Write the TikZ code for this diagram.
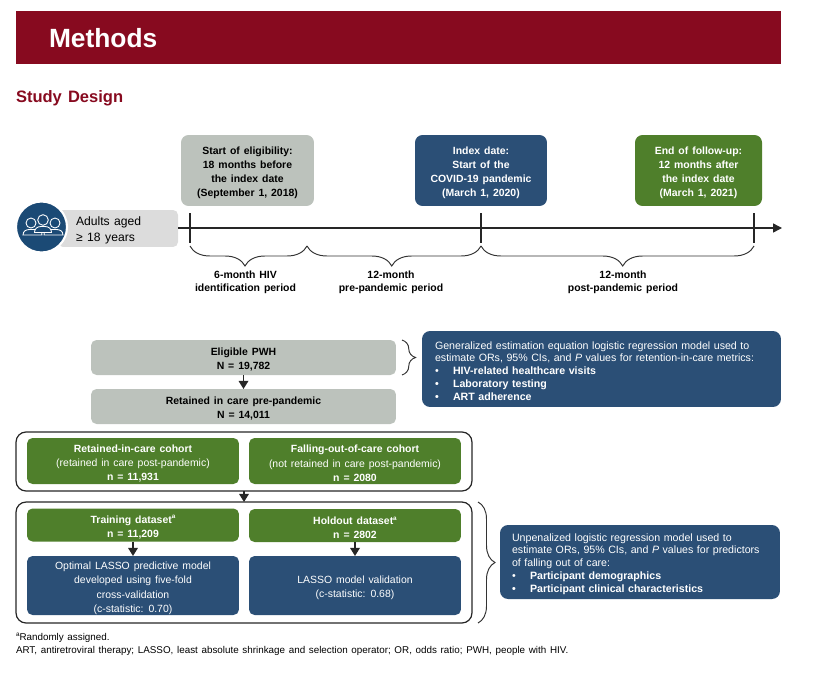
\documentclass[tikz,border=0pt]{standalone}
\usepackage{fontspec}
\setmainfont[WordSpace=1.35]{Liberation Sans}
\usetikzlibrary{decorations.pathreplacing,arrows.meta}
\definecolor{crimson}{HTML}{870A1F}
\definecolor{slateblue}{HTML}{2B4F76}
\definecolor{iconblue}{HTML}{1B4A75}
\definecolor{leafgreen}{HTML}{4F7F2B}
\definecolor{sage}{HTML}{BCC2BC}
\definecolor{lightgrey}{HTML}{DCDCDC}
\newcommand{\supa}{\smash{\raisebox{0.42em}{\fontsize{3.6}{4}\selectfont a}}}
\newcommand{\itembullet}{\makebox[0.36cm][l]{•}}
\newcommand{\lift}[1][7pt]{\rule{0pt}{#1}}
\begin{document}
\begin{tikzpicture}[x=0.02cm,y=-0.02cm,inner sep=0pt,outer sep=0pt,
basebox/.style={rectangle,rounded corners=0.11cm,align=center,font=\fontsize{5.95}{8.05}\selectfont},
greybox/.style={basebox,fill=sage,text=black},
bluebox/.style={basebox,fill=slateblue,text=white},
greenbox/.style={basebox,fill=leafgreen,text=white},
datebox/.style={rounded corners=0.15cm,minimum height=1.42cm},
notebox/.style={bluebox,align=left,rounded corners=0.16cm,font=\fontsize{6.05}{7.25}\selectfont},
periodlabel/.style={align=center,font=\fontsize{5.95}{7.2}\selectfont\bfseries},
framebox/.style={draw=black!85,line width=0.7pt,rectangle,rounded corners=0.2cm,minimum width=9.12cm},
axisline/.style={line width=0.8pt,black!85},
flowarrow/.style={-{Triangle[length=4.6pt,width=5.4pt]},line width=1pt,black!85},
timebrace/.style={decorate,line width=0.55pt,black!80},
person/.style={draw=white,line width=0.5pt,fill=iconblue}]
\useasboundingbox (0,0) rectangle (820,672);
% title band
\node[fill=crimson,minimum width=15.3cm,minimum height=1.05cm,anchor=north west] (band) at (16,11.5) {};
\node[text=white,font=\fontsize{15}{18}\selectfont\bfseries,anchor=west] (methods) at (49,38) {Methods};
\node[text=crimson,font=\fontsize{9.4}{12}\selectfont\bfseries,anchor=west] (design) at (16,98) {Study Design};
% timeline
\node[greybox,datebox,minimum width=2.66cm] (start) at (247.5,170.5) {\lift\bfseries Start of eligibility:\\\bfseries 18 months before\\\bfseries the index date\\\bfseries (September 1, 2018)};
\node[bluebox,datebox,minimum width=2.64cm] (index) at (481,170.5) {\lift\bfseries Index date:\\\bfseries Start of the\\\bfseries COVID-19 pandemic\\\bfseries (March 1, 2020)};
\node[greenbox,datebox,minimum width=2.54cm] (end) at (698.5,170.5) {\lift\bfseries End of follow-up:\\\bfseries 12 months after\\\bfseries the index date\\\bfseries (March 1, 2021)};
\node[fill=lightgrey,rectangle,rounded corners=0.1cm,minimum width=2.4cm,minimum height=0.74cm,anchor=east] (adults) at (178,228.5) {};
\node[anchor=west,align=left,font=\fontsize{6.9}{9}\selectfont] (adultstext) at (76,230) {Adults aged\\≥ 18 years};
\node[circle,fill=iconblue,draw=white,line width=1.2pt,minimum size=1.02cm] (icon) at (41.5,227) {};
% three figures inside the circle
\draw[person] (31,223) circle (5);
\draw[person] (55,223) circle (5);
\draw[person] (23,235) .. controls (23,231) and (26,229.5) .. (30,229.5) -- (36,229.5) .. controls (40,229.5) and (42,231) .. (42,235) -- cycle;
\draw[person] (44,235) .. controls (44,231) and (46,229.5) .. (50,229.5) -- (56,229.5) .. controls (60,229.5) and (63,231) .. (63,235) -- cycle;
\draw[person] (43,220) circle (5.3);
\draw[person] (34.5,232.5) .. controls (34.5,229) and (37,226.5) .. (41,226.5) -- (45,226.5) .. controls (49,226.5) and (51.5,229) .. (51.5,232.5) -- cycle;
\coordinate (axisend) at (782,228);
\draw[-{Triangle[length=5pt,width=5pt]},axisline] (adults.east |- axisend) -- (axisend);
\foreach \tickname/\xpos in {tickstart/190,tickindex/481,tickend/754}{
  \coordinate (\tickname) at (\xpos,246);
  \draw[axisline] (\xpos,213) -- (\xpos,243);
}
\coordinate (tickmid) at (307,246);
\draw[timebrace,decoration={brace,mirror,amplitude=0.4cm,aspect=0.47}] (tickstart) -- (tickmid);
\draw[timebrace,decoration={brace,mirror,amplitude=0.4cm,aspect=0.487}] (tickmid) -- (tickindex);
\draw[timebrace,decoration={brace,mirror,amplitude=0.4cm,aspect=0.519}] (tickindex) -- (tickend);
\node[periodlabel] (identify) at (245.5,282) {6-month HIV\\identification period};
\node[periodlabel] (prepan) at (391,282) {12-month\\pre-pandemic period};
\node[periodlabel] (postpan) at (623,282) {12-month\\post-pandemic period};
% flow
\node[greybox,minimum width=6.1cm,minimum height=0.7cm] (eligible) at (243.5,357.5) {\lift[6.5pt]\bfseries Eligible PWH\\\bfseries N = 19,782};
\node[greybox,minimum width=6.1cm,minimum height=0.7cm] (retained) at (243.5,406.5) {\lift[6.5pt]\bfseries Retained in care pre-pandemic\\\bfseries N = 14,011};
\draw[flowarrow] (eligible) -- (retained);
\node[framebox,minimum height=1.18cm] (cohorts) at (244,461.5) {};
\node[greenbox,minimum width=4.24cm,minimum height=0.92cm] (incare) at (133,461) {\lift\bfseries Retained-in-care cohort\\(retained in care post-pandemic)\\\bfseries n = 11,931};
\node[greenbox,minimum width=4.24cm,minimum height=0.92cm] (outcare) at (355,461) {\lift\bfseries Falling-out-of-care cohort\\(not retained in care post-pandemic)\\\bfseries n = 2080};
\node[framebox,minimum height=2.42cm] (datasets) at (244,562.5) {};
\draw[flowarrow] (cohorts) -- (datasets);
\node[greenbox,minimum width=4.24cm,minimum height=0.66cm] (training) at (133,525) {\lift\bfseries Training dataset\supa\\\bfseries n = 11,209};
\node[greenbox,minimum width=4.24cm,minimum height=0.66cm] (holdout) at (355,525.5) {\lift\bfseries Holdout dataset\supa\\\bfseries n = 2802};
\node[bluebox,minimum width=4.24cm,minimum height=1.18cm] (lasso) at (133,585.5) {\lift[7.5pt]Optimal LASSO predictive model\\developed using five-fold\\cross-validation\\(c-statistic: 0.70)};
\node[bluebox,minimum width=4.24cm,minimum height=1.18cm] (valid) at (355,585.5) {\lift[6.7pt]LASSO model validation\\(c-statistic: 0.68)};
\draw[flowarrow] (training) -- (lasso);
\draw[flowarrow] (holdout) -- (valid);
% model notes
\node[notebox,text width=6.66cm,inner xsep=0.26cm,minimum height=1.52cm] (geemodel) at (601.5,369) {\lift[6.4pt]Generalized estimation equation logistic regression model used to\\estimate ORs, 95\% CIs, and \emph{P} values for retention-in-care metrics:\\\itembullet\bfseries HIV-related healthcare visits\\\itembullet\bfseries Laboratory testing\\\itembullet\bfseries ART adherence};
\node[notebox,text width=5.12cm,inner xsep=0.24cm,minimum height=1.48cm] (lrmodel) at (640,562) {\lift[6.4pt]Unpenalized logistic regression model used to\\estimate ORs, 95\% CIs, and \emph{P} values for predictors\\of falling out of care:\\\itembullet\bfseries Participant demographics\\\itembullet\bfseries Participant clinical characteristics};
\coordinate (geetop) at (402,340);
\coordinate (geebot) at (402,375);
\coordinate (lrtop) at (478,502);
\coordinate (lrbot) at (478,623);
\draw[timebrace,decoration={brace,amplitude=0.27cm}] (geetop) -- (geebot);
\draw[timebrace,decoration={brace,amplitude=0.34cm}] (lrtop) -- (lrbot);
% footnotes
\node[anchor=west,font=\fontsize{5.6}{7}\selectfont,align=left] (notes) at (16,644.5) {\supa Randomly assigned.\\ART, antiretroviral therapy; LASSO, least absolute shrinkage and selection operator; OR, odds ratio; PWH, people with HIV.};
\end{tikzpicture}
\end{document}
